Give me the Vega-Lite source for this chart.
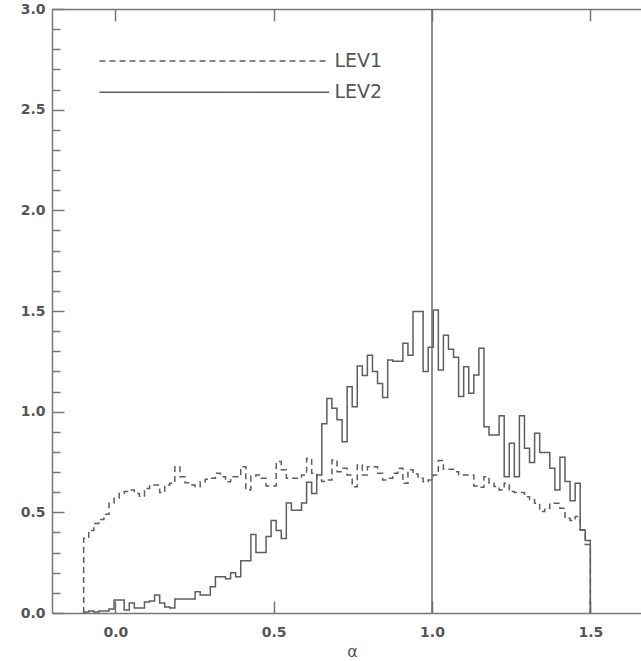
{
 "$schema": "https://vega.github.io/schema/vega-lite/v6.json",
 "width": 589,
 "height": 604,
 "autosize": {"type": "none"},
 "padding": {"left": 52, "top": 9, "right": 0, "bottom": 48},
 "background": "white",
 "config": {
  "view": {"stroke": null},
  "axis": {"domainColor": "#777777", "domainWidth": 1.5, "tickColor": "#777777", "tickWidth": 1.5, "labelColor": "#555555", "labelFont": "DejaVu Sans", "labelFontWeight": "bold", "labelFontSize": 14, "grid": false, "titleColor": "#555555", "titleFont": "DejaVu Sans"}
 },
 "datasets": {
  "h": [
   {"i":0,"a":-0.1,"l1":0,"l2":0},
   {"i":1,"a":-0.1,"l1":0.371,"l2":0.005},
   {"i":2,"a":-0.084,"l1":0.41,"l2":0.01},
   {"i":3,"a":-0.068,"l1":0.445,"l2":0.005},
   {"i":4,"a":-0.052,"l1":0.465,"l2":0.01},
   {"i":5,"a":-0.036,"l1":0.49,"l2":0.01},
   {"i":6,"a":-0.02,"l1":0.545,"l2":0.02},
   {"i":7,"a":-0.004,"l1":0.57,"l2":0.065},
   {"i":8,"a":0.012,"l1":0.594,"l2":0.065},
   {"i":9,"a":0.028,"l1":0.603,"l2":0.015},
   {"i":10,"a":0.044,"l1":0.611,"l2":0.05},
   {"i":11,"a":0.06,"l1":0.594,"l2":0.025},
   {"i":12,"a":0.076,"l1":0.58,"l2":0.025},
   {"i":13,"a":0.092,"l1":0.619,"l2":0.055},
   {"i":14,"a":0.108,"l1":0.636,"l2":0.06},
   {"i":15,"a":0.124,"l1":0.636,"l2":0.09},
   {"i":16,"a":0.14,"l1":0.598,"l2":0.05},
   {"i":17,"a":0.156,"l1":0.636,"l2":0.03},
   {"i":18,"a":0.172,"l1":0.644,"l2":0.025},
   {"i":19,"a":0.188,"l1":0.727,"l2":0.07},
   {"i":20,"a":0.204,"l1":0.677,"l2":0.07},
   {"i":21,"a":0.22,"l1":0.647,"l2":0.07},
   {"i":22,"a":0.236,"l1":0.636,"l2":0.07},
   {"i":23,"a":0.252,"l1":0.627,"l2":0.105},
   {"i":24,"a":0.268,"l1":0.652,"l2":0.09},
   {"i":25,"a":0.284,"l1":0.664,"l2":0.09},
   {"i":26,"a":0.3,"l1":0.669,"l2":0.13},
   {"i":27,"a":0.316,"l1":0.694,"l2":0.18},
   {"i":28,"a":0.332,"l1":0.677,"l2":0.18},
   {"i":29,"a":0.348,"l1":0.652,"l2":0.17},
   {"i":30,"a":0.364,"l1":0.677,"l2":0.2},
   {"i":31,"a":0.38,"l1":0.677,"l2":0.18},
   {"i":32,"a":0.396,"l1":0.727,"l2":0.26},
   {"i":33,"a":0.412,"l1":0.611,"l2":0.26},
   {"i":34,"a":0.428,"l1":0.68,"l2":0.39},
   {"i":35,"a":0.444,"l1":0.685,"l2":0.3},
   {"i":36,"a":0.46,"l1":0.669,"l2":0.3},
   {"i":37,"a":0.476,"l1":0.631,"l2":0.38},
   {"i":38,"a":0.492,"l1":0.631,"l2":0.46},
   {"i":39,"a":0.508,"l1":0.752,"l2":0.41},
   {"i":40,"a":0.524,"l1":0.711,"l2":0.37},
   {"i":41,"a":0.54,"l1":0.669,"l2":0.546},
   {"i":42,"a":0.556,"l1":0.669,"l2":0.51},
   {"i":43,"a":0.572,"l1":0.669,"l2":0.51},
   {"i":44,"a":0.588,"l1":0.685,"l2":0.546},
   {"i":45,"a":0.604,"l1":0.768,"l2":0.65},
   {"i":46,"a":0.62,"l1":0.694,"l2":0.594},
   {"i":47,"a":0.636,"l1":0.661,"l2":0.685},
   {"i":48,"a":0.652,"l1":0.653,"l2":0.94},
   {"i":49,"a":0.668,"l1":0.66,"l2":1.066},
   {"i":50,"a":0.684,"l1":0.76,"l2":1.017},
   {"i":51,"a":0.7,"l1":0.702,"l2":0.96},
   {"i":52,"a":0.716,"l1":0.719,"l2":0.85},
   {"i":53,"a":0.732,"l1":0.685,"l2":1.124},
   {"i":54,"a":0.748,"l1":0.627,"l2":1.025},
   {"i":55,"a":0.764,"l1":0.735,"l2":1.227},
   {"i":56,"a":0.78,"l1":0.685,"l2":1.18},
   {"i":57,"a":0.796,"l1":0.727,"l2":1.28},
   {"i":58,"a":0.812,"l1":0.727,"l2":1.2},
   {"i":59,"a":0.828,"l1":0.694,"l2":1.14},
   {"i":60,"a":0.844,"l1":0.661,"l2":1.07},
   {"i":61,"a":0.86,"l1":0.669,"l2":1.257},
   {"i":62,"a":0.876,"l1":0.694,"l2":1.25},
   {"i":63,"a":0.892,"l1":0.719,"l2":1.25},
   {"i":64,"a":0.908,"l1":0.644,"l2":1.34},
   {"i":65,"a":0.924,"l1":0.711,"l2":1.28},
   {"i":66,"a":0.94,"l1":0.69,"l2":1.497},
   {"i":67,"a":0.956,"l1":0.669,"l2":1.497},
   {"i":68,"a":0.972,"l1":0.652,"l2":1.2},
   {"i":69,"a":0.988,"l1":0.66,"l2":1.32},
   {"i":70,"a":1.004,"l1":0.686,"l2":1.505},
   {"i":71,"a":1.02,"l1":0.757,"l2":1.207},
   {"i":72,"a":1.036,"l1":0.714,"l2":1.38},
   {"i":73,"a":1.052,"l1":0.714,"l2":1.31},
   {"i":74,"a":1.068,"l1":0.702,"l2":1.27},
   {"i":75,"a":1.084,"l1":0.686,"l2":1.075},
   {"i":76,"a":1.1,"l1":0.686,"l2":1.223},
   {"i":77,"a":1.116,"l1":0.686,"l2":1.091},
   {"i":78,"a":1.132,"l1":0.631,"l2":1.182},
   {"i":79,"a":1.148,"l1":0.625,"l2":1.315},
   {"i":80,"a":1.164,"l1":0.677,"l2":0.925},
   {"i":81,"a":1.18,"l1":0.644,"l2":0.884},
   {"i":82,"a":1.196,"l1":0.628,"l2":0.884},
   {"i":83,"a":1.212,"l1":0.611,"l2":0.98},
   {"i":84,"a":1.228,"l1":0.644,"l2":0.677},
   {"i":85,"a":1.244,"l1":0.603,"l2":0.843},
   {"i":86,"a":1.26,"l1":0.598,"l2":0.677},
   {"i":87,"a":1.276,"l1":0.598,"l2":0.98},
   {"i":88,"a":1.292,"l1":0.578,"l2":0.818},
   {"i":89,"a":1.308,"l1":0.562,"l2":0.747},
   {"i":90,"a":1.324,"l1":0.545,"l2":0.893},
   {"i":91,"a":1.34,"l1":0.504,"l2":0.797},
   {"i":92,"a":1.356,"l1":0.52,"l2":0.797},
   {"i":93,"a":1.372,"l1":0.545,"l2":0.719},
   {"i":94,"a":1.388,"l1":0.545,"l2":0.611},
   {"i":95,"a":1.404,"l1":0.52,"l2":0.774},
   {"i":96,"a":1.42,"l1":0.47,"l2":0.653},
   {"i":97,"a":1.436,"l1":0.459,"l2":0.558},
   {"i":98,"a":1.452,"l1":0.479,"l2":0.644},
   {"i":99,"a":1.468,"l1":0.413,"l2":0.412},
   {"i":100,"a":1.484,"l1":0.34,"l2":0.36},
   {"i":101,"a":1.5,"l1":0,"l2":0}
  ],
  "leg": [
   {"s":"LEV1","lx":-0.05,"lx2":0.671,"ly":2.742,"tx":0.692},
   {"s":"LEV2","lx":-0.05,"lx2":0.675,"ly":2.587,"tx":0.692}
  ]
 },
 "resolve": {"axis": {"x": "independent", "y": "independent"}},
 "layer": [
  {
   "data": {"name": "h"},
   "mark": {"type": "line", "interpolate": "step-after", "strokeDash": [6, 4], "color": "#5e5e5e", "strokeWidth": 1.5},
   "encoding": {
    "x": {"field": "a", "type": "quantitative", "scale": {"domain": [-0.2, 1.66], "nice": false, "zero": false},
          "axis": {"orient": "top", "values": [0, 0.5, 1, 1.5], "labels": false, "tickSize": -12, "title": null}},
    "y": {"field": "l1", "type": "quantitative", "scale": {"domain": [0, 3], "nice": false},
          "axis": {"orient": "left", "values": [0.1,0.2,0.3,0.4,0.6,0.7,0.8,0.9,1.1,1.2,1.3,1.4,1.6,1.7,1.8,1.9,2.1,2.2,2.3,2.4,2.6,2.7,2.8,2.9], "labels": false, "domain": false, "tickSize": -8, "title": null}},
    "order": {"field": "i", "type": "quantitative"}
   }
  },
  {
   "data": {"name": "h"},
   "mark": {"type": "line", "interpolate": "step-after", "color": "#5e5e5e", "strokeWidth": 1.5},
   "encoding": {
    "x": {"field": "a", "type": "quantitative",
          "axis": {"orient": "bottom", "values": [0, 0.5, 1, 1.5], "format": ".1f", "tickSize": -12, "labelPadding": 24, "title": "α", "titleX": 300, "titleY": 43.5, "titleBaseline": "alphabetic", "titleAlign": "center", "titleFontSize": 16, "titleFontWeight": "normal"}},
    "y": {"field": "l2", "type": "quantitative",
          "axis": {"orient": "left", "values": [0, 0.5, 1, 1.5, 2, 2.5, 3], "format": ".1f", "tickSize": -12, "labelPadding": 19, "title": null}},
    "order": {"field": "i", "type": "quantitative"}
   }
  },
  {
   "data": {"values": [{"a": 1.0}]},
   "mark": {"type": "rule", "color": "#6a6a6a", "strokeWidth": 1.5},
   "encoding": {"x": {"field": "a", "type": "quantitative", "axis": null}}
  },
  {
   "data": {"name": "leg"},
   "mark": {"type": "rule", "color": "#5e5e5e", "strokeWidth": 1.5},
   "encoding": {
    "x": {"field": "lx", "type": "quantitative", "axis": null},
    "x2": {"field": "lx2"},
    "y": {"field": "ly", "type": "quantitative", "axis": null},
    "strokeDash": {"field": "s", "type": "nominal", "scale": {"domain": ["LEV1", "LEV2"], "range": [[6, 4], [1, 0]]}, "legend": null}
   }
  },
  {
   "data": {"name": "leg"},
   "mark": {"type": "text", "align": "left", "baseline": "middle", "font": "DejaVu Sans", "fontSize": 19, "color": "#555555"},
   "encoding": {
    "x": {"field": "tx", "type": "quantitative", "axis": null},
    "y": {"field": "ly", "type": "quantitative", "axis": null},
    "text": {"field": "s"}
   }
  }
 ]
}
